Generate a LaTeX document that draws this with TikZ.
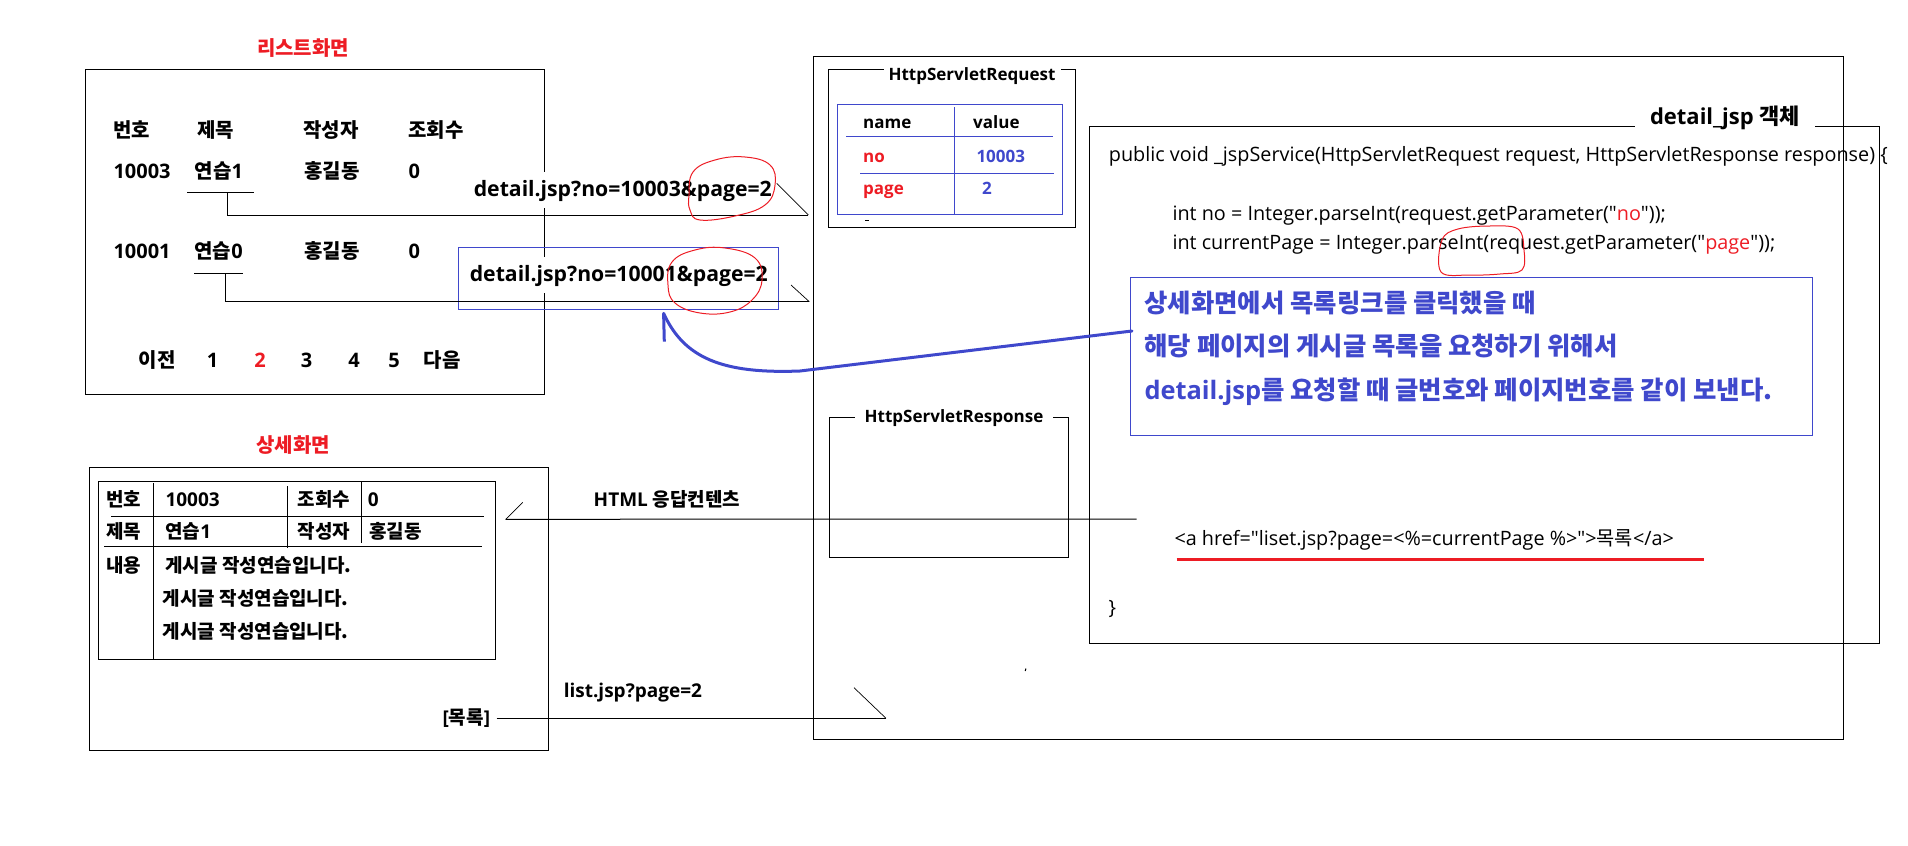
\documentclass[tikz,border=0pt]{standalone}
\usepackage{fontspec}
\setmainfont{Open Sans}
\newfontfamily\codefont{Open Sans}
\newfontfamily\kofont{Noto Sans CJK KR}
\newcommand\K[1]{{\kofont #1}}
\usetikzlibrary{fit}
\definecolor{pred}{RGB}{237,28,36}
\definecolor{pblue}{RGB}{63,72,204}
\tikzset{
  txt/.style={inner sep=0pt, anchor=west, text height=0.8em, text depth=0.2em, font=\bfseries\fontsize{10}{12}\selectfont},
  dtxt/.style={txt, font=\bfseries\fontsize{9.5}{11}\selectfont},
  stxt/.style={txt, font=\bfseries\fontsize{8.5}{10}\selectfont},
  code/.style={inner sep=0pt, anchor=west, text height=0.8em, text depth=0.2em, font=\codefont\fontsize{9.9}{12}\selectfont},
  note/.style={txt, text=pblue, font=\bfseries\fontsize{12.7}{15}\selectfont},
  lbl/.style={txt, fill=white, inner ysep=4pt, font=\bfseries\fontsize{10.6}{12}\selectfont},
  ttl/.style={stxt, anchor=center, fill=white, inner xsep=2.5pt, inner ysep=1pt},
  frame/.style={draw, inner sep=0pt},
  bframe/.style={draw=pblue, inner sep=0pt},
  barb/.style={line width=0.35pt},
  redring/.style={pred, line width=0.5pt},
}
\begin{document}
\begin{tikzpicture}[x=0.5pt, y=-0.5pt, line width=0.5pt]
\useasboundingbox (0,0) rectangle (1908,846);

% ---------- list screen ----------
\node[txt, anchor=center, text=pred] (tlist) at (303,49) {\K{리스트화면}};
\node[frame, fit={(85,69) (544,394)}] (listbox) {};
\node[txt] (h1) at (113,131.7) {\K{번호}};
\node[txt] (h2) at (196.7,131.7) {\K{제목}};
\node[txt] (h3) at (302.7,131.7) {\K{작성자}};
\node[txt] (h4) at (407.7,131.7) {\K{조회수}};
\node[txt] (r1a) at (113,172.7) {10003};
\node[txt] (r1b) at (194.3,172.7) {\K{연습}1};
\node[txt] (r1c) at (304,172.7) {\K{홍길동}};
\node[txt] (r1d) at (408,172.7) {0};
\node[txt] (r2a) at (113,252.7) {10001};
\node[txt] (r2b) at (194,252.7) {\K{연습}0};
\node[txt] (r2c) at (304,252.7) {\K{홍길동}};
\node[txt] (r2d) at (408,252.7) {0};
\node[txt] (prev) at (138.3,361.7) {\K{이전}};
\node[txt, anchor=center] (p1) at (212.7,361.7) {1};
\node[txt, anchor=center, text=pred] (p2) at (260,361.7) {2};
\node[txt, anchor=center] (p3) at (306.7,361.7) {3};
\node[txt, anchor=center] (p4) at (354,361.7) {4};
\node[txt, anchor=center] (p5) at (394,361.7) {5};
\node[txt] (next) at (423.3,361.7) {\K{다음}};

% link labels
\node[lbl] (lnk1) at (473.3,190) {detail.jsp?no=10003\&page=2};
\node[lbl] (lnk2) at (469.3,275) {detail.jsp?no=10001\&page=2};
\node[bframe, fit={(458.3,247.3) (778.3,309.3)}] (lnk2box) {};

% ---------- server box ----------
\node[frame, fit={(813,56) (1843,739)}] (server) {};

% request object
\node[frame, fit={(828.7,69.3) (1075.3,227.3)}] (reqbox) {};
\node[ttl] (reqt) at (972,74.3) {HttpServletRequest};
\node[bframe, fit={(837.3,104.3) (1062.7,214.3)}] (reqtab) {};
\draw[pblue] (954.3,107.3) -- (954.3,214.3);
\draw[pblue] (846,136.7) -- (1052.7,136.7);
\draw[pblue] (860,173.3) -- (1054,173.3);
\node[stxt] (qn) at (862.7,122.7) {name};
\node[stxt] (qv) at (972.7,122.7) {value};
\node[stxt, text=pred] (qn1) at (862.7,156) {no};
\node[stxt, text=pblue] (qv1) at (976,156) {10003};
\node[stxt, text=pred] (qn2) at (862.7,188.3) {page};
\node[stxt, text=pblue] (qv2) at (981.7,188.3) {2};
\draw (865,220) -- (868.5,220);

% response object
\node[frame, fit={(829.3,417.3) (1068.7,557.3)}] (resbox) {};
\node[ttl, inner xsep=5pt] (rest) at (954,416) {HttpServletResponse};

% detail_jsp object
\node[frame, fit={(1089,126) (1879,643)}] (jspbox) {};
\node[ttl, font=\bfseries\fontsize{11}{13}\selectfont, inner xsep=7.5pt] (jspt) at (1725,118) {detail\_jsp \K{객체}};
\node[code] (c1) at (1108.4,155) {public void \_jspService(HttpServletRequest request, HttpServletResponse response) \{};
\node[code] (c2) at (1172,214) {int no = Integer.parseInt(request.getParameter("\textcolor{pred}{no}"));};
\node[code] (c3) at (1172,243) {int currentPage = Integer.parseInt(request.getParameter("\textcolor{pred}{page}"));};
\node[code] (c4) at (1174,539.3) {<a href="liset.jsp?page=<\%=currentPage \%>">\K{목록}</a>};
\node[code] (c5) at (1108,608) {\}};
\draw[pred, line width=1.5pt] (1176.5,559.3) -- (1703.6,559.3);
\draw (1026,668.5) -- (1025.2,671);

% note
\node[bframe, fit={(1130,277) (1812,435)}] (note) {};
\node[note] (n1) at (1144,306) {\K{상세화면에서 목록링크를 클릭했을 때}};
\node[note] (n2) at (1144,349) {\K{해당 페이지의 게시글 목록을 요청하기 위해서}};
\node[note] (n3) at (1144,393) {detail.jsp\K{를 요청할 때 글번호와 페이지번호를 같이 보낸다.}};

% ---------- detail screen ----------
\node[txt, anchor=center, text=pred] (tdet) at (293,446) {\K{상세화면}};
\node[frame, fit={(89.3,467.7) (548.3,750)}] (detbox) {};
\node[frame, fit={(98.3,481.7) (495.3,659.3)}] (dtab) {};
\draw (153.3,483) -- (153.3,660);
\draw (287.7,486) -- (287.7,548.3);
\draw (361.7,481.7) -- (361.7,542.7);
\draw (111,516.7) -- (484,516.7);
\draw (104,546.7) -- (482,546.7);
\node[dtxt] (d1) at (106,500.7) {\K{번호}};
\node[dtxt] (d2) at (165,500.7) {10003};
\node[dtxt] (d3) at (297.3,500.7) {\K{조회수}};
\node[dtxt] (d4) at (367.3,500.7) {0};
\node[dtxt] (d5) at (106,532.3) {\K{제목}};
\node[dtxt] (d6) at (165,532.3) {\K{연습}1};
\node[dtxt] (d7) at (297.3,532.3) {\K{작성자}};
\node[dtxt] (d8) at (368.7,532.3) {\K{홍길동}};
\node[dtxt] (d9) at (106,566) {\K{내용}};
\node[dtxt] (b1) at (165,566) {\K{게시글 작성연습입니다.}};
\node[dtxt] (b2) at (162.3,599) {\K{게시글 작성연습입니다.}};
\node[dtxt] (b3) at (162.3,632) {\K{게시글 작성연습입니다.}};
\node[dtxt, anchor=east] (mok) at (490.7,718.3) {[\K{목록}]};
\node[dtxt] (lq) at (563.3,691.7) {list.jsp?page=2};
\node[dtxt, anchor=center] (html) at (667,500) {HTML \K{응답컨텐츠}};

% ---------- connectors ----------
\coordinate (u1m) at (227.3,192.3);
\coordinate (j1) at (227.3,215);
\coordinate (e1) at (808.3,215);
\draw (187,192.3) -- (253.7,192.3);
\draw (u1m) -- (j1) -- (e1);
\draw[barb] (e1) -- (776.7,183.3);

\coordinate (u2m) at (225.7,273.3);
\coordinate (j2) at (225.7,301.7);
\coordinate (e2) at (809.3,301.7);
\draw (194,273.3) -- (242.7,273.3);
\draw (u2m) -- (j2) -- (e2);
\draw[barb] (e2) -- (791,285);

\coordinate (hs) at (1136.7,519);
\coordinate (he) at (505.7,519.3);
\draw (hs) -- (he);
\draw[barb] (he) -- (522.7,502.3);

\coordinate (ms) at (496.7,718.3);
\coordinate (me) at (886,718.3);
\draw (ms) -- (me);
\draw[barb] (me) -- (854,687.7);

\coordinate (arS) at (1132,331);
\coordinate (arT) at (663.6,313.3);
\draw[pblue, line width=1.5pt, line cap=round] (arS) -- (800,371) .. controls (722,374) and (684,358) .. (arT);
\draw[pblue, line width=1.5pt] (arT) -- (664.3,341.7);

% red freehand rings
\draw[redring] plot[smooth cycle, tension=0.7] coordinates {(689,195) (693,172) (715,160) (745,157) (770,165) (775,185) (765,205) (735,216) (700,220) (690,210)};
\draw[redring] plot[smooth cycle, tension=0.7] coordinates {(668,285) (672,262) (695,250) (725,248) (755,258) (762,280) (752,300) (730,312) (700,313) (675,303)};
\draw[redring] plot[smooth cycle, tension=0.6] coordinates {(1441,272) (1442,240) (1458,229) (1490,226) (1518,229) (1524,250) (1522,270) (1500,274) (1470,275)};
\end{tikzpicture}
\end{document}
